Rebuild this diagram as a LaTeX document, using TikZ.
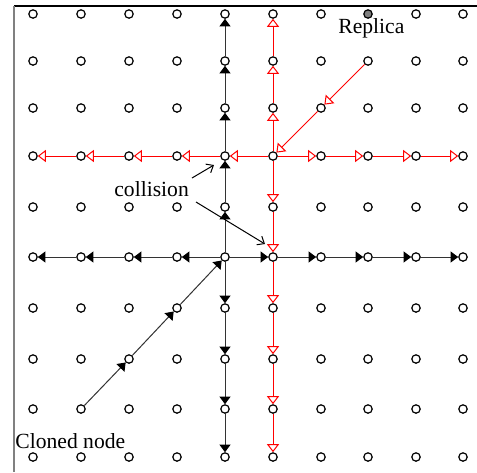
\documentclass[tikz,border=0pt]{standalone}
\usepackage{fontspec}
\setmainfont{Liberation Serif}
\usetikzlibrary{arrows.meta}
\begin{document}
\begin{tikzpicture}[x=0.5pt,y=-0.5pt,
  pt/.style={circle,draw,line width=0.6pt,inner sep=0pt,minimum size=4.2pt},
  blk/.style={line width=0.5pt,black!80,-{Triangle[length=3.8pt,width=5.5pt,fill=black,color=black]}},
  redarr/.style={line width=0.5pt,red,-{Triangle[open,length=4pt,width=6pt]}},
  lbl/.style={font=\fontsize{10.8}{12}\selectfont,inner sep=0pt},
  note/.style={line width=0.5pt,-{Straight Barb[length=3pt,width=5pt]}}]
\useasboundingbox (0,0) rectangle (477,472);
% frame
\draw[line width=0.6pt] (14,6) -- (477,6);
\draw[line width=0.9pt,gray] (14,6) -- (14,472);
% grid of nodes
\foreach \c/\x in {1/33,2/81,3/129,4/177,5/225,6/273,7/321,8/368,9/416,10/463}{
  \foreach \r/\y in {1/14,2/61,3/108,4/156,5/207,6/257,7/308,8/359,9/409,10/457}{
    \def\f{white}\ifnum\c=8 \ifnum\r=1 \def\f{gray}\fi\fi
    \node[pt,fill=\f] (n-\c-\r) at (\x,\y) {};
  }}
% black tree
\foreach \a/\b in {6/5,5/4,4/3,3/2,2/1,6/7,7/8,8/9,9/10}
  \draw[blk] (n-5-\a) -- (n-5-\b);
\foreach \a/\b in {5/4,4/3,3/2,2/1,6/7,7/8,8/9,9/10}
  \draw[blk] (n-\a-6) -- (n-\b-6);
\draw[blk] (n-5-6) -- (n-6-6);
\draw[blk] (n-2-9) -- (n-3-8);
\draw[blk] (n-3-8) -- (n-4-7);
\draw[blk] (n-4-7) -- (n-5-6);
% red tree
\draw[redarr] (n-8-2) -- (n-7-3);
\draw[redarr] (n-7-3) -- (n-6-4);
\foreach \a/\b in {6/5,5/4,4/3,3/2,2/1,6/7,7/8,8/9,9/10}
  \draw[redarr] (n-\a-4) -- (n-\b-4);
\foreach \a/\b in {4/3,3/2,2/1,4/5,5/6,6/7,7/8,8/9,9/10}
  \draw[redarr] (n-6-\a) -- (n-6-\b);
% labels
\node[lbl,anchor=base west] (replica) at (338,33) {Replica};
\node[lbl,anchor=base west] (coll) at (114,196) {collision};
\node[lbl,anchor=base west] (clone) at (15,448) {Cloned node};
% collision pointers
\coordinate (c1s) at (192,178);
\coordinate (c1e) at (214,165);
\coordinate (c2s) at (196,202);
\coordinate (c2e) at (265,244);
\draw[note] (c1s) -- (c1e);
\draw[note] (c2s) -- (c2e);
\end{tikzpicture}
\end{document}
